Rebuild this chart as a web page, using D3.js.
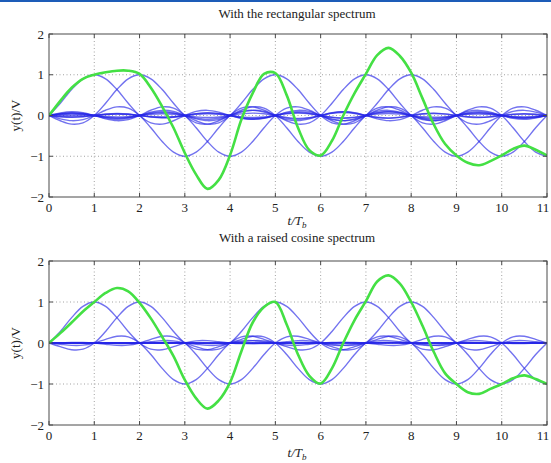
<!DOCTYPE html>
<html>
<head>
<meta charset="utf-8">
<script src="https://cdn.jsdelivr.net/npm/d3@7/dist/d3.min.js"></script>
<style>
  html, body { margin: 0; padding: 0; background: #fff; }
  svg { display: block; font-family: "Liberation Serif", "Times New Roman", serif; }
</style>
</head>
<body>
<svg id="chart" width="551" height="463"></svg>
<script>
// bit positions (in units of T_b) and their amplitudes
var bitTimes = [1, 2, 3, 4, 5, 6, 7, 8, 9, 10, 11];
var bits = [1, 1, -1, -1, 1, -1, 1, 1, -1, -1, -1];

// one pulse shape per panel, sampled every 0.25 T_b from the peak outwards
var pulseStep = 0.25;
var pulseRect = [1, 0.90, 0.637, 0.30, 0, -0.18, -0.212, -0.129, 0, 0.10, 0.127, 0.082, 0,
  -0.069, -0.091, -0.06, 0, 0.053, 0.071, 0.047, 0, -0.043, -0.058, -0.039, 0,
  0.036, 0.049, 0.033, 0, -0.031, -0.042, -0.029, 0, 0.027, 0.037, 0.026, 0,
  -0.024, -0.034, -0.023, 0];
var pulseRaised = [1, 0.894, 0.619, 0.281, 0, -0.150, -0.163, -0.089, 0, 0.053, 0.057, 0.030, 0,
  -0.015, -0.014, -0.006, 0, 0.0003, -0.002, -0.002, 0];

// green sum signal, read every 0.25 T_b from t = 0 to 11
var sumRect = [0, 0.36, 0.68, 0.9, 1.0, 1.06, 1.1, 1.1, 1.02, 0.68, 0.22, -0.3,
  -0.92, -1.45, -1.8, -1.58, -0.97, -0.1, 0.55, 1.02, 1.04, 0.5, -0.3, -0.85,
  -0.98, -0.62, 0.0, 0.55, 1.02, 1.48, 1.66, 1.46, 1.05, 0.42, -0.22, -0.7,
  -0.98, -1.16, -1.22, -1.12, -0.98, -0.82, -0.74, -0.84, -0.98];
var sumRaised = [0, 0.24, 0.5, 0.77, 1.0, 1.22, 1.34, 1.26, 0.98, 0.6, 0.15, -0.32,
  -0.9, -1.35, -1.6, -1.4, -0.96, -0.2, 0.5, 0.88, 1.0, 0.45, -0.28, -0.8,
  -0.99, -0.62, 0.0, 0.56, 1.02, 1.5, 1.65, 1.45, 1.0, 0.42, -0.22, -0.74,
  -1.0, -1.2, -1.24, -1.12, -1.0, -0.86, -0.79, -0.88, -1.0];

var xTicks = [0, 1, 2, 3, 4, 5, 6, 7, 8, 9, 10, 11];
var yTicks = [-2, -1, 0, 1, 2];
var titles = ["With the rectangular spectrum", "With a raised cosine spectrum"];

var svg = d3.select("#chart");
var sampleT = d3.range(0, 45).map(function(i){ return i * pulseStep; });

// thin blue band at the very top of the page
svg.append("rect").attr("x", 0).attr("y", 0).attr("width", 551).attr("height", 2)
  .attr("fill", "#1d5cb8");

var panels = [
  { top: 34, bottom: 197, title: titles[0], pulse: pulseRect, sum: sumRect, titleY: 18, labelY: 225 },
  { top: 261, bottom: 425, title: titles[1], pulse: pulseRaised, sum: sumRaised, titleY: 242, labelY: 457 }
];

panels.forEach(function(p, idx){
  drawPanel(p, idx);
});

function drawPanel(p, idx){
  var left = 49, right = 547;
  var x = d3.scaleLinear().domain([0, 11]).range([left, right]);
  var y = d3.scaleLinear().domain([-2, 2]).range([p.bottom, p.top]);

  var g = svg.append("g");

  g.append("defs").append("clipPath").attr("id", "clip" + idx)
    .append("rect").attr("x", left).attr("y", p.top)
    .attr("width", right - left).attr("height", p.bottom - p.top);

  // dotted grid
  g.append("g").selectAll("line").data(xTicks.slice(1, -1)).enter().append("line")
    .attr("x1", function(d){ return x(d); }).attr("x2", function(d){ return x(d); })
    .attr("y1", p.top).attr("y2", p.bottom)
    .attr("stroke", "#8a8a8a").attr("stroke-width", 0.8).attr("stroke-dasharray", "1,2.5");
  g.append("g").selectAll("line").data(yTicks.slice(1, -1)).enter().append("line")
    .attr("y1", function(d){ return y(d); }).attr("y2", function(d){ return y(d); })
    .attr("x1", left).attr("x2", right)
    .attr("stroke", "#8a8a8a").attr("stroke-width", 0.8).attr("stroke-dasharray", "1,2.5");

  var line = d3.line()
    .x(function(d){ return x(d[0]); })
    .y(function(d){ return y(d[1]); })
    .curve(d3.curveCatmullRom);

  var plot = g.append("g").attr("clip-path", "url(#clip" + idx + ")");

  // individual pulses
  plot.selectAll("path.pulse").data(bits).enter().append("path")
    .attr("class", "pulse")
    .attr("d", function(b, i){
      var c = bitTimes[i];
      var pts = sampleT.map(function(t){
        var k = Math.round(Math.abs(t - c) / pulseStep);
        var v = k < p.pulse.length ? p.pulse[k] : 0;
        return [t, b * v];
      });
      return line(pts);
    })
    .attr("fill", "none")
    .attr("stroke", "#2626e6")
    .attr("stroke-opacity", 0.65)
    .attr("stroke-width", 1.4);

  // summed signal
  plot.append("path")
    .attr("d", line(sampleT.map(function(t, i){ return [t, p.sum[i]]; })))
    .attr("fill", "none")
    .attr("stroke", "#44e044")
    .attr("stroke-width", 2.6);

  // frame
  g.append("rect").attr("x", left).attr("y", p.top)
    .attr("width", right - left).attr("height", p.bottom - p.top)
    .attr("fill", "none").attr("stroke", "#4a4a4a").attr("stroke-width", 1);

  // inward ticks on all four sides
  var ticks = g.append("g").attr("stroke", "#4a4a4a").attr("stroke-width", 1);
  xTicks.forEach(function(d){
    ticks.append("line").attr("x1", x(d)).attr("x2", x(d)).attr("y1", p.bottom).attr("y2", p.bottom - 4);
    ticks.append("line").attr("x1", x(d)).attr("x2", x(d)).attr("y1", p.top).attr("y2", p.top + 4);
  });
  yTicks.forEach(function(d){
    ticks.append("line").attr("y1", y(d)).attr("y2", y(d)).attr("x1", left).attr("x2", left + 4);
    ticks.append("line").attr("y1", y(d)).attr("y2", y(d)).attr("x1", right).attr("x2", right - 4);
  });

  // tick labels (the last one nudged so it stays on the page)
  g.append("g").selectAll("text").data(xTicks).enter().append("text")
    .attr("x", function(d){ return d === 11 ? x(d) - 4 : x(d); })
    .attr("y", p.bottom + 15)
    .attr("text-anchor", "middle")
    .attr("font-size", 13).attr("fill", "#222")
    .text(function(d){ return d; });
  g.append("g").selectAll("text").data(yTicks).enter().append("text")
    .attr("x", left - 5)
    .attr("y", function(d){ return y(d) + 4.5; })
    .attr("text-anchor", "end")
    .attr("font-size", 13).attr("fill", "#222")
    .text(function(d){ return d < 0 ? "\u2212" + (-d) : d; });

  // title
  g.append("text").attr("x", 297).attr("y", p.titleY)
    .attr("text-anchor", "middle").attr("font-size", 13).attr("fill", "#222")
    .text(p.title);

  // x label t/T_b
  var xl = g.append("text").attr("x", 297).attr("y", p.labelY)
    .attr("text-anchor", "middle").attr("font-size", 13).attr("fill", "#222")
    .attr("font-style", "italic");
  xl.append("tspan").text("t/T");
  xl.append("tspan").attr("font-size", 9).attr("dy", 2.5).text("b");

  // y label
  g.append("text")
    .attr("transform", "translate(20," + ((p.top + p.bottom) / 2) + ") rotate(-90)")
    .attr("text-anchor", "middle").attr("font-size", 13).attr("fill", "#222")
    .text("y(t)/V");
}
</script>
</body>
</html>
